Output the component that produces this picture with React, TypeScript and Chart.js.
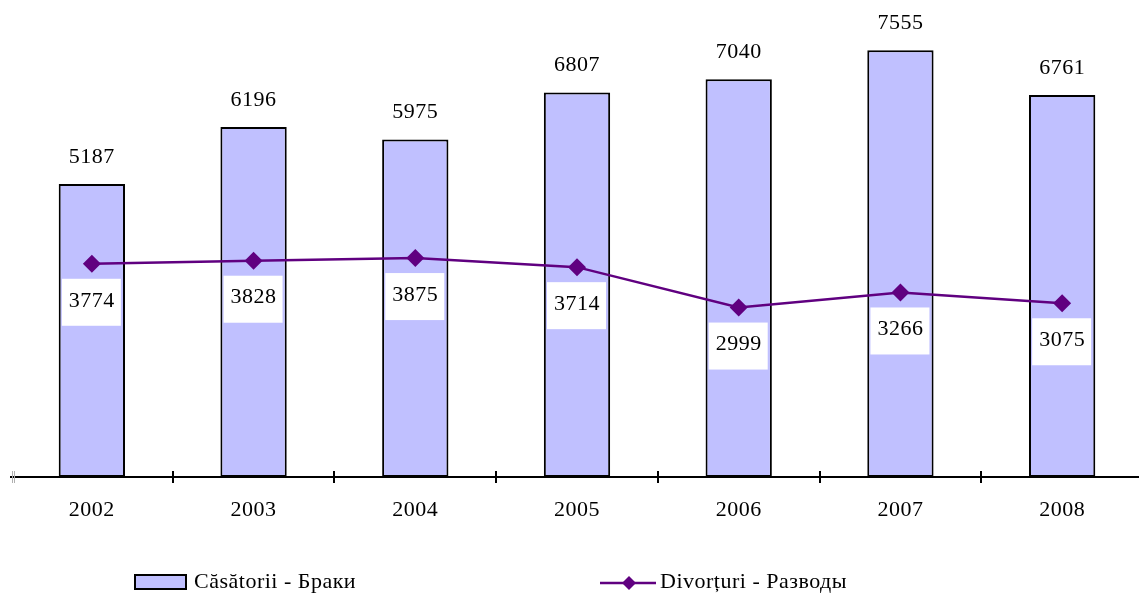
import React, { useEffect, useRef } from "react";
import { Chart, registerables } from "chart.js";

Chart.register(...registerables);

const years = ["2002", "2003", "2004", "2005", "2006", "2007", "2008"];
const marriages = [5187, 6196, 5975, 6807, 7040, 7555, 6761];
const divorces = [3774, 3828, 3875, 3714, 2999, 3266, 3075];
const seriesNames = ["Căsătorii - Браки", "Divorțuri - Разводы"];

const FONT = "Liberation Serif, 'Times New Roman', serif";
const BAR_FILL = "#C0C0FF";
const LINE_COLOR = "#600080";
const SPACING = "0.5px";

const overlayPlugin = {
  id: "overlay",
  beforeDraw(chart: any) {
    chart.ctx.letterSpacing = SPACING;
  },
  afterDatasetsDraw(chart: any) {
    const ctx = chart.ctx;
    ctx.save();
    ctx.font = `22px ${FONT}`;
    ctx.fillStyle = "#000";
    ctx.textAlign = "center";
    ctx.textBaseline = "middle";
    const barMeta = chart.getDatasetMeta(0);
    barMeta.data.forEach((el: any, i: number) => {
      ctx.fillText(String(chart.data.datasets[0].data[i]), el.x, el.y - 27);
    });
    const lineMeta = chart.getDatasetMeta(1);
    lineMeta.data.forEach((el: any, i: number) => {
      ctx.fillStyle = "#fff";
      ctx.fillRect(el.x - 30, el.y + 15, 59, 47);
      ctx.fillStyle = "#000";
      ctx.fillText(String(chart.data.datasets[1].data[i]), el.x, el.y + 37);
    });
    ctx.restore();
  },
  afterDraw(chart: any) {
    const ctx = chart.ctx;
    const area = chart.chartArea;
    const xs = chart.scales.x;
    const n = chart.data.labels.length;
    const w = (area.right - area.left) / n;
    const y = xs.top;
    ctx.save();
    for (let i = 0; i <= n; i++) {
      const x = Math.round(area.left + i * w);
      if (i === 0) {
        ctx.strokeStyle = "#b0b0b0";
        ctx.lineWidth = 1;
        [1.5, 3.5].forEach((d) => {
          ctx.beginPath();
          ctx.moveTo(x + d, y - 6);
          ctx.lineTo(x + d, y + 6);
          ctx.stroke();
        });
      } else {
        ctx.strokeStyle = "#000";
        ctx.lineWidth = 2;
        ctx.beginPath();
        ctx.moveTo(x, y - 6);
        ctx.lineTo(x, y + 6);
        ctx.stroke();
      }
    }
    ctx.font = `22px ${FONT}`;
    ctx.textAlign = "left";
    ctx.textBaseline = "middle";
    const ly = 582;
    ctx.fillStyle = BAR_FILL;
    ctx.fillRect(135, 575, 51, 14);
    ctx.strokeStyle = "#000";
    ctx.lineWidth = 2;
    ctx.strokeRect(135, 575, 51, 14);
    ctx.fillStyle = "#000";
    ctx.fillText(seriesNames[0], 194, ly);

    ctx.strokeStyle = LINE_COLOR;
    ctx.lineWidth = 2.5;
    ctx.beginPath();
    ctx.moveTo(600, 583);
    ctx.lineTo(656, 583);
    ctx.stroke();
    ctx.fillStyle = LINE_COLOR;
    ctx.beginPath();
    ctx.moveTo(629, 576);
    ctx.lineTo(636, 583);
    ctx.lineTo(629, 590);
    ctx.lineTo(622, 583);
    ctx.closePath();
    ctx.fill();
    ctx.fillStyle = "#000";
    ctx.fillText(seriesNames[1], 660, ly);
    ctx.restore();
  },
};

export default function App() {
  const ref = useRef<HTMLCanvasElement | null>(null);
  useEffect(() => {
    if (!ref.current) return;
    const chart = new Chart(ref.current, {
      type: "bar",
      data: {
        labels: years,
        datasets: [
          {
            type: "bar",
            label: seriesNames[0],
            data: marriages,
            backgroundColor: BAR_FILL,
            borderColor: "#000",
            borderWidth: 2,
            borderSkipped: false,
            barPercentage: 0.41,
            categoryPercentage: 1,
            order: 2,
          },
          {
            type: "line",
            label: seriesNames[1],
            data: divorces,
            borderColor: LINE_COLOR,
            backgroundColor: LINE_COLOR,
            borderWidth: 2.5,
            pointStyle: "rectRot",
            pointRadius: 9,
            pointHoverRadius: 9,
            pointBorderWidth: 0,
            tension: 0,
            order: 1,
          },
        ],
      },
      options: {
        animation: false,
        responsive: false,
        maintainAspectRatio: false,
        devicePixelRatio: 1,
        layout: { padding: { left: 11, right: 3, top: 25, bottom: 0 } },
        plugins: { legend: { display: false }, tooltip: { enabled: false } },
        scales: {
          x: {
            type: "category",
            offset: true,
            grid: { display: false, drawTicks: false },
            border: { display: true, color: "#000", width: 2 },
            ticks: {
              color: "#000",
              font: { family: FONT, size: 22 },
              padding: 20,
              maxRotation: 0,
            },
            afterFit: (s: any) => {
              s.height = 117;
            },
          },
          y: {
            display: false,
            min: 0,
            max: 8000,
          },
        },
      },
      plugins: [overlayPlugin],
    });
    return () => chart.destroy();
  }, []);
  return (
    <div
      style={{
        position: "fixed",
        left: 0,
        top: 0,
        width: 1139,
        height: 594,
        overflow: "hidden",
        background: "#fff",
      }}
    >
      <canvas
        ref={ref}
        width={1152}
        height={594}
        style={{ display: "block", width: 1152, height: 594 }}
      />
    </div>
  );
}
